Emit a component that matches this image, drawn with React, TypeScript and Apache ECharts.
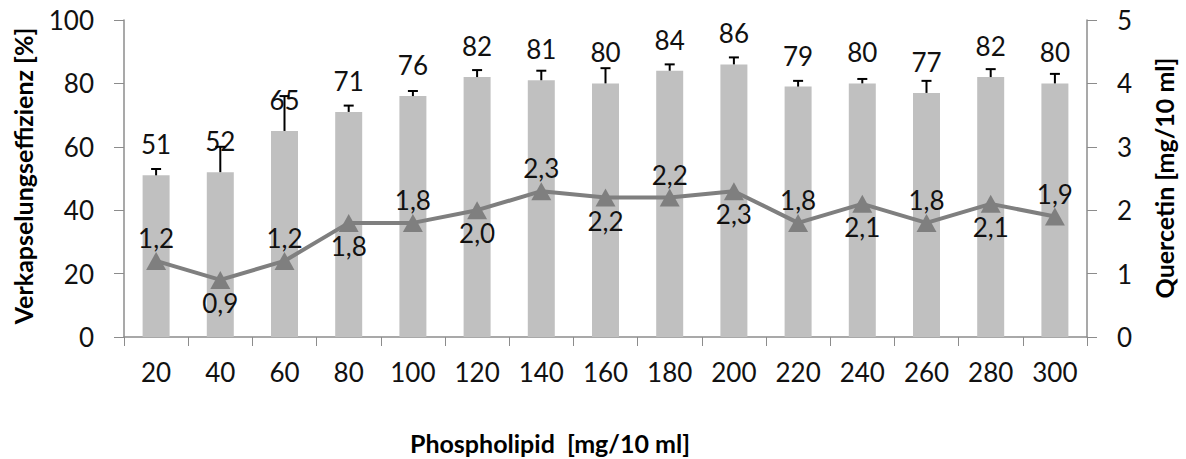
import React, { useEffect, useRef } from "react";
import * as echarts from "echarts";

const categories = ["20", "40", "60", "80", "100", "120", "140", "160", "180", "200", "220", "240", "260", "280", "300"];
const efficiency = [51, 52, 65, 71, 76, 82, 81, 80, 84, 86, 79, 80, 77, 82, 80];
const efficiencyErr = [2, 8, 11, 2, 1.6, 2.2, 3, 4.8, 2, 2.2, 1.8, 1.4, 3.8, 2.5, 3];
const quercetin = [1.2, 0.9, 1.2, 1.8, 1.8, 2.0, 2.3, 2.2, 2.2, 2.3, 1.8, 2.1, 1.8, 2.1, 1.9];

const FONT = "Lato";
const NUM = 26;
const TITLE = 25;

export default function App() {
  const ref = useRef<HTMLDivElement>(null);
  useEffect(() => {
    if (!ref.current) return;
    const chart = echarts.init(ref.current, null, { renderer: "svg" });
    const errData = efficiency.map((v, i) => [i, v, v + efficiencyErr[i]]);
    chart.setOption({
      animation: false,
      backgroundColor: "#ffffff",
      grid: { left: 124, right: 99, top: 20, bottom: 122, containLabel: false },
      xAxis: {
        type: "category",
        data: categories,
        boundaryGap: true,
        axisLine: { lineStyle: { color: "#8c8c8c", width: 1.5 } },
        axisTick: { show: true, length: 9, lineStyle: { color: "#8c8c8c" } },
        axisLabel: { color: "#111", fontFamily: FONT, fontSize: NUM, margin: 22, interval: 0 },
      },
      yAxis: [
        {
          type: "value",
          min: 0,
          max: 100,
          interval: 20,
          splitLine: { show: false },
          axisLine: { show: true, lineStyle: { color: "#8c8c8c", width: 1.5 } },
          axisTick: { show: true, length: 10, lineStyle: { color: "#8c8c8c" } },
          axisLabel: { color: "#111", fontFamily: FONT, fontSize: NUM, margin: 30 },
        },
        {
          type: "value",
          min: 0,
          max: 5,
          interval: 1,
          position: "right",
          splitLine: { show: false },
          axisLine: { show: true, lineStyle: { color: "#8c8c8c", width: 1.5 } },
          axisTick: { show: true, length: 10, lineStyle: { color: "#8c8c8c" } },
          axisLabel: { color: "#111", fontFamily: FONT, fontSize: NUM, margin: 30 },
        },
      ],
      series: [
        {
          type: "bar",
          data: efficiency,
          yAxisIndex: 0,
          barWidth: 27,
          itemStyle: { color: "#c0c0c0" },
          label: {
            show: true,
            position: "top",
            distance: 18,
            color: "#111",
            fontFamily: FONT,
            fontSize: NUM,
          },
          z: 1,
        },
        {
          type: "custom",
          yAxisIndex: 0,
          data: errData,
          z: 3,
          renderItem: (params: any, api: any) => {
            const idx = api.value(0);
            const lo = api.coord([idx, api.value(1)]);
            const hi = api.coord([idx, api.value(2)]);
            const cap = 5;
            return {
              type: "group",
              children: [
                {
                  type: "line",
                  shape: { x1: lo[0], y1: lo[1], x2: hi[0], y2: hi[1] },
                  style: { stroke: "#000", lineWidth: 2 },
                },
                {
                  type: "line",
                  shape: { x1: hi[0] - cap, y1: hi[1], x2: hi[0] + cap, y2: hi[1] },
                  style: { stroke: "#000", lineWidth: 2 },
                },
              ],
            };
          },
        },
        {
          type: "line",
          yAxisIndex: 1,
          data: quercetin.map((v, i) => ({
            value: v,
            label: { position: i % 2 === 0 ? "top" : "bottom" },
          })),
          symbol: "triangle",
          symbolSize: [20, 18],
          lineStyle: { color: "#7f7f7f", width: 4 },
          itemStyle: { color: "#7f7f7f" },
          label: {
            show: true,
            distance: 1,
            color: "#111",
            fontFamily: FONT,
            fontSize: NUM,
            formatter: (p: any) => p.value.toFixed(1).replace(".", ","),
          },
          z: 4,
        },
      ],
      graphic: [
        {
          type: "text",
          x: 23,
          y: 176,
          rotation: Math.PI / 2,
          style: {
            text: "Verkapselungseffizienz [%]",
            fontFamily: FONT,
            fontWeight: "bold",
            fontSize: TITLE,
            fill: "#000",
            align: "center",
            verticalAlign: "middle",
          },
        },
        {
          type: "text",
          x: 1164,
          y: 178,
          rotation: Math.PI / 2,
          style: {
            text: "Quercetin [mg/10 ml]",
            fontFamily: FONT,
            fontWeight: "bold",
            fontSize: TITLE,
            fill: "#000",
            align: "center",
            verticalAlign: "middle",
          },
        },
        {
          type: "text",
          x: 550,
          y: 443,
          style: {
            text: "Phospholipid  [mg/10 ml]",
            fontFamily: FONT,
            fontWeight: "bold",
            fontSize: TITLE,
            fill: "#000",
            align: "center",
            verticalAlign: "middle",
          },
        },
      ],
    });
    return () => chart.dispose();
  }, []);
  return <div ref={ref} style={{ width: 1186, height: 459, position: "absolute", left: 0, top: 0 }} />;
}
